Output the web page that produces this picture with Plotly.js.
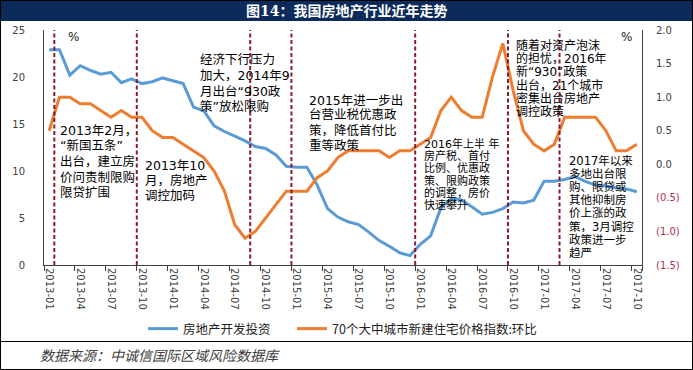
<!DOCTYPE html>
<html>
<head>
<meta charset="utf-8">
<script src="https://cdn.plot.ly/plotly-3.0.1.min.js"></script>
<style>
  html, body { margin: 0; padding: 0; background: #ffffff; }
  #chart { width: 693px; height: 370px; }
</style>
</head>
<body>
<div id="chart"></div>
<script>
// ---------------- data ----------------
const months = [
  "2013-01","2013-02","2013-03","2013-04","2013-05","2013-06","2013-07","2013-08","2013-09","2013-10","2013-11","2013-12",
  "2014-01","2014-02","2014-03","2014-04","2014-05","2014-06","2014-07","2014-08","2014-09","2014-10","2014-11","2014-12",
  "2015-01","2015-02","2015-03","2015-04","2015-05","2015-06","2015-07","2015-08","2015-09","2015-10","2015-11","2015-12",
  "2016-01","2016-02","2016-03","2016-04","2016-05","2016-06","2016-07","2016-08","2016-09","2016-10","2016-11","2016-12",
  "2017-01","2017-02","2017-03","2017-04","2017-05","2017-06","2017-07","2017-08","2017-09","2017-10"
];
// 房地产开发投资 累计同比 (%) – left axis
const investment = [
  22.9, 22.9, 20.2, 21.2, 20.7, 20.3, 20.5, 19.4, 19.8, 19.3, 19.5, 19.9,
  19.6, 19.3, 16.8, 16.4, 14.8, 14.2, 13.7, 13.2, 12.6, 12.4, 11.7, 10.5,
  10.4, 10.4, 8.5, 6.0, 5.1, 4.6, 4.3, 3.5, 2.6, 2.0, 1.3, 1.0,
  2.2, 3.1, 6.1, 7.1, 6.9, 6.2, 5.4, 5.6, 6.0, 6.7, 6.6, 6.9,
  8.9, 8.9, 9.1, 9.4, 8.9, 8.5, 8.4, 8.2, 8.1, 7.8
];
// 70个大中城市新建住宅价格指数:环比 (%) – right axis
const priceMoM = [
  0.5, 1.0, 1.0, 0.9, 0.9, 0.8, 0.7, 0.8, 0.7, 0.7, 0.5, 0.4,
  0.4, 0.3, 0.2, 0.1, -0.1, -0.4, -0.9, -1.1, -1.0, -0.8, -0.6, -0.4,
  -0.4, -0.4, -0.2, -0.1, 0.1, 0.2, 0.2, 0.2, 0.2, 0.1, 0.2, 0.2,
  0.3, 0.4, 0.8, 1.0, 0.8, 0.7, 0.7, 1.3, 1.8, 1.1, 0.5, 0.3,
  0.2, 0.3, 0.7, 0.7, 0.7, 0.7, 0.5, 0.2, 0.2, 0.3
];
const seriesNames = ["房地产开发投资", "70个大中城市新建住宅价格指数:环比"];
const leftTicks = [0, 5, 10, 15, 20, 25];
const rightTicks = [-1.5, -1.0, -0.5, 0.0, 0.5, 1.0, 1.5, 2.0];
// policy events (month at which a dashed marker line is drawn)
const eventMonths = ["2013-02","2013-10","2014-09","2015-01","2016-01","2016-10","2017-03"];
const eventNotes = [
  ["2013年2月，", "“新国五条”", "出台，建立房", "价问责制限购", "限贷扩围"],
  ["2013年10", "月，房地产", "调控加码"],
  ["经济下行压力", "加大，2014年9", "月出台“930政", "策”放松限购"],
  ["2015年进一步出", "台营业税优惠政", "策，降低首付比", "重等政策"],
  ["2016年上半 年", "房产税、首付", "比例、优惠政", "策、限购政策", "的调整，房价", "快速攀升"],
  ["随着对资产泡沫", "的担忧，2016年", "新“930”政策", "出台，21个城市", "密集出台房地产", "调控政策"],
  ["2017年以来", "多地出台限", "购、限贷或", "其他抑制房", "价上涨的政", "策，3月调控", "政策进一步", "趋严"]
];
const titleText = "图14：我国房地产行业近年走势";
const sourceText = "数据来源：中诚信国际区域风险数据库";

// ---------------- layout helpers ----------------
const FW = 693, FH = 370;
const ML = 44, MR = 51, MT = 30, MB = 105;
const PW = FW - ML - MR, PH = FH - MT - MB;
const px = p => (p - ML) / PW;            // pixel x -> paper x
const py = p => (FH - MB - p) / PH;       // pixel y -> paper y

// note block placement: [left px, first line center px, line spacing px, font size]
const notePos = [
  [59, 130, 15.7, 12.5],
  [144, 165, 15.2, 12.5],
  [199, 60, 15.6, 12.5],
  [308, 100, 15.0, 12.5],
  [423, 144, 12.2, 11],
  [515, 45, 13.4, 12],
  [568, 160.5, 13.2, 11.5]
];

const annotations = [];
eventNotes.forEach((lines, k) => {
  const [lx, ty, sp, fs] = notePos[k];
  lines.forEach((t, j) => {
    annotations.push({
      xref: "paper", yref: "paper", x: px(lx), y: py(ty + j * sp),
      xanchor: "left", yanchor: "middle", showarrow: false, borderpad: 0,
      text: t, font: {family: "DejaVu Sans, Noto Sans CJK SC, sans-serif", size: fs, color: "#000000"}
    });
  });
});
// % unit labels
annotations.push({xref: "paper", yref: "paper", x: px(73), y: py(37), xanchor: "center", yanchor: "middle",
  showarrow: false, text: "%", font: {family: "DejaVu Sans, sans-serif", size: 12, color: "#222"}});
annotations.push({xref: "paper", yref: "paper", x: px(626), y: py(37), xanchor: "center", yanchor: "middle",
  showarrow: false, text: "%", font: {family: "DejaVu Sans, sans-serif", size: 12, color: "#222"}});
// title
annotations.push({xref: "paper", yref: "paper", x: px(346.5), y: py(11), xanchor: "center", yanchor: "middle",
  showarrow: false, text: "<b>" + titleText + "</b>",
  font: {family: "DejaVu Serif, Noto Sans CJK SC, serif", size: 14, color: "#ffffff"}});
// source
annotations.push({xref: "paper", yref: "paper", x: px(38), y: py(355), xanchor: "left", yanchor: "middle",
  showarrow: false, text: "<i>" + sourceText + "</i>",
  font: {family: "Noto Sans CJK SC, sans-serif", size: 14, color: "#404040"}});

const shapes = [];
// title bar
shapes.push({type: "rect", xref: "paper", yref: "paper", x0: px(0), x1: px(FW), y0: py(0), y1: py(21),
  fillcolor: "#0C2B5B", line: {width: 0}, layer: "below"});
// outer frame
shapes.push({type: "rect", xref: "paper", yref: "paper", x0: px(0.5), x1: px(FW - 0.5), y0: py(0.5), y1: py(FH - 0.5),
  line: {color: "#000000", width: 1}, fillcolor: "rgba(0,0,0,0)"});
// separator above source line
shapes.push({type: "line", xref: "paper", yref: "paper", x0: px(0), x1: px(FW), y0: py(341.5), y1: py(341.5),
  line: {color: "#000000", width: 1}});
// event dashed lines at month start
eventMonths.forEach(m => {
  const i = months.indexOf(m) - 0.5;
  shapes.push({type: "line", xref: "x", yref: "paper", x0: i, x1: i, y0: 0, y1: 1,
    line: {color: "#8E1B2C", width: 2, dash: "4px,2.5px"}, layer: "above"});
});

const xTickVals = months.filter((m, i) => i % 3 === 0);
const rightTickText = rightTicks.map(v => v < 0
  ? '<span style="color:#B0304A">(' + Math.abs(v).toFixed(1) + ')</span>'
  : v.toFixed(1));

const traces = [
  {x: months, y: investment, name: seriesNames[0], type: "scatter", mode: "lines", yaxis: "y",
   legend: "legend", line: {color: "#5B9BD5", width: 3}},
  {x: months, y: priceMoM, name: seriesNames[1], type: "scatter", mode: "lines", yaxis: "y2",
   legend: "legend2", line: {color: "#ED7D31", width: 3}}
];

const legendFont = {family: "Noto Sans CJK SC, sans-serif", size: 12.5, color: "#222"};
const tickFont = {family: "DejaVu Sans, sans-serif", size: 10, color: "#404040"};
const layout = {
  width: FW, height: FH,
  margin: {l: ML, r: MR, t: MT, b: MB, autoexpand: false},
  paper_bgcolor: "#ffffff", plot_bgcolor: "#ffffff",
  showlegend: true,
  legend: {orientation: "h", x: px(143), y: py(329), xanchor: "left", yanchor: "middle",
    font: legendFont, bgcolor: "rgba(0,0,0,0)", itemwidth: 30},
  legend2: {orientation: "h", x: px(292), y: py(329), xanchor: "left", yanchor: "middle",
    font: legendFont, bgcolor: "rgba(0,0,0,0)", itemwidth: 30},
  xaxis: {
    type: "category", range: [-0.5, months.length - 0.5],
    tickmode: "array", tickvals: xTickVals, ticktext: xTickVals,
    tickson: "boundaries", ticks: "outside", ticklen: 5, tickcolor: "#404040",
    tickangle: 90, tickfont: tickFont,
    showline: true, linecolor: "#404040", linewidth: 1, showgrid: false, zeroline: false
  },
  yaxis: {
    range: [0, 25], tickmode: "array", tickvals: leftTicks, ticktext: leftTicks.map(String),
    tickfont: tickFont, ticks: "", ticklabelstandoff: 16,
    showline: true, linecolor: "#404040", linewidth: 1, showgrid: false, zeroline: false
  },
  yaxis2: {
    overlaying: "y", side: "right", range: [-1.5, 2.0],
    tickmode: "array", tickvals: rightTicks, ticktext: rightTickText,
    tickfont: tickFont, ticks: "", ticklabelstandoff: 11,
    showline: true, linecolor: "#404040", linewidth: 1, showgrid: false, zeroline: false
  },
  annotations: annotations,
  shapes: shapes
};

Plotly.newPlot("chart", traces, layout, {displayModeBar: false, staticPlot: true});
</script>
</body>
</html>
